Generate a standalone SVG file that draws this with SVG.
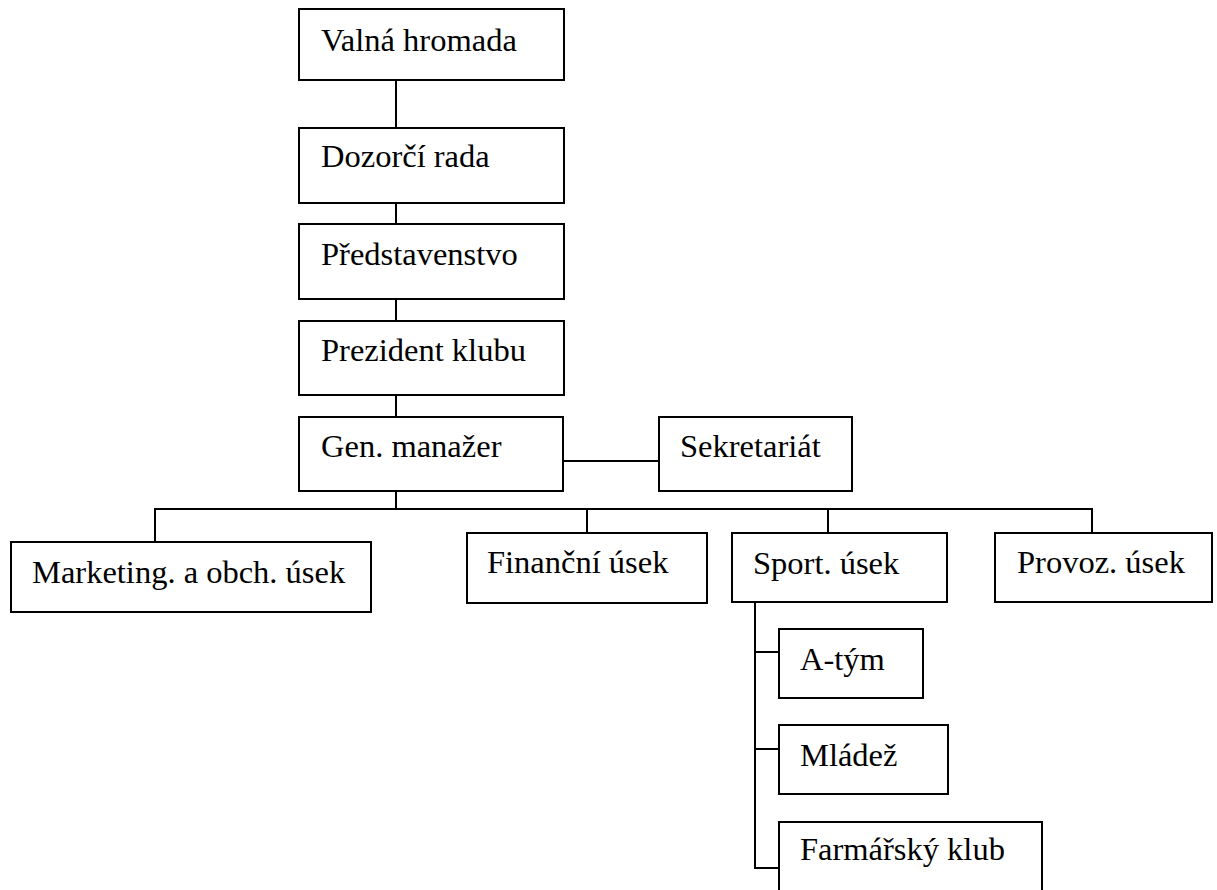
<svg xmlns="http://www.w3.org/2000/svg" width="1217" height="890" viewBox="0 0 1217 890">
<style>
.box{fill:#fff;stroke:#000;stroke-width:2}
.ln{fill:none;stroke:#000;stroke-width:2}
text{font-family:"Liberation Serif","Times New Roman",serif;font-size:32.5px;fill:#000}
</style>
<rect width="1217" height="890" fill="#fff"/>
<g id="connectors">
<line class="ln" x1="396" y1="80" x2="396" y2="128"/>
<line class="ln" x1="396" y1="197" x2="396" y2="224"/>
<line class="ln" x1="396" y1="293" x2="396" y2="321"/>
<line class="ln" x1="396" y1="389" x2="396" y2="417"/>
<line class="ln" x1="563" y1="461" x2="659" y2="461"/>
<line class="ln" x1="396" y1="485" x2="396" y2="509"/>
<polyline class="ln" points="155,542 155,509 1092,509 1092,533"/>
<line class="ln" x1="587" y1="509" x2="587" y2="533"/>
<line class="ln" x1="828" y1="509" x2="828" y2="533"/>
<line class="ln" x1="755" y1="602" x2="755" y2="869"/>
<line class="ln" x1="755" y1="652" x2="779" y2="652"/>
<line class="ln" x1="755" y1="749" x2="779" y2="749"/>
<line class="ln" x1="754" y1="868" x2="779" y2="868"/>
</g>
<g id="valna"><rect class="box" x="299" y="9" width="265" height="71"/><text x="321" y="50.5">Valná hromada</text></g>
<g id="dozorci"><rect class="box" x="299" y="128" width="265" height="75"/><text x="321" y="167">Dozorčí rada</text></g>
<g id="predstavenstvo"><rect class="box" x="299" y="224" width="265" height="75"/><text x="321" y="265">Představenstvo</text></g>
<g id="prezident"><rect class="box" x="299" y="321" width="265" height="74"/><text x="321" y="361">Prezident klubu</text></g>
<g id="genmanazer"><rect class="box" x="299" y="417" width="264" height="74"/><text x="321" y="457">Gen. manažer</text></g>
<g id="sekretariat"><rect class="box" x="659" y="417" width="193" height="74"/><text x="680" y="457">Sekretariát</text></g>
<g id="marketing"><rect class="box" x="11" y="542" width="360" height="70"/><text x="32" y="583">Marketing. a obch. úsek</text></g>
<g id="financni"><rect class="box" x="467" y="533" width="240" height="70"/><text x="487" y="573">Finanční úsek</text></g>
<g id="sport"><rect class="box" x="732" y="533" width="215" height="69"/><text x="753" y="574">Sport. úsek</text></g>
<g id="provoz"><rect class="box" x="995" y="533" width="217" height="69"/><text x="1017" y="573">Provoz. úsek</text></g>
<g id="atym"><rect class="box" x="779" y="629" width="144" height="69"/><text x="800" y="670">A-tým</text></g>
<g id="mladez"><rect class="box" x="779" y="725" width="169" height="69"/><text x="800" y="766">Mládež</text></g>
<g id="farmarsky"><rect class="box" x="779" y="822" width="263" height="90"/><text x="800" y="860">Farmářský klub</text></g>
</svg>
